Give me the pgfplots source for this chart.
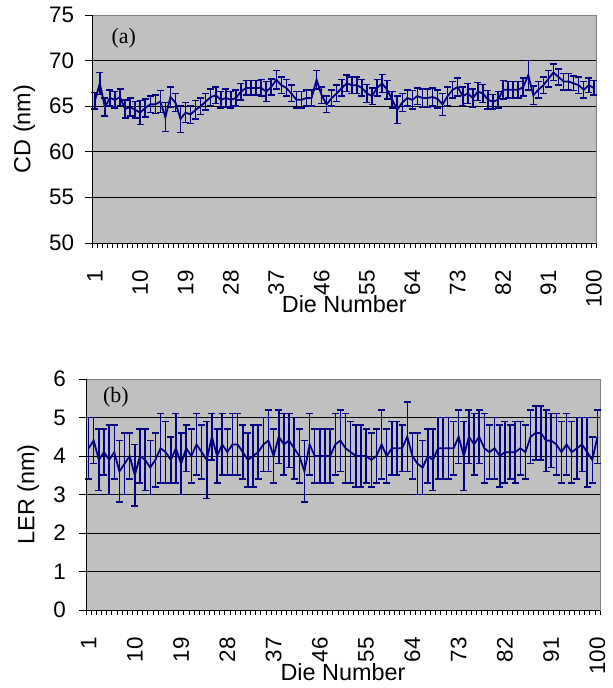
\documentclass[border=0pt]{standalone}
\usepackage{pgfplots}
\pgfplotsset{compat=1.18}
\usepackage{pgfplotstable}
\usepackage{fontspec}
\setmainfont{Liberation Sans}
\newfontfamily\serif{Liberation Serif}
\definecolor{navyline}{RGB}{0,0,128}
\definecolor{plotbg}{RGB}{192,192,192}
\definecolor{frameg}{RGB}{128,128,128}

\pgfplotstableread{
x y e
1 65.6 0.9
2 67.5 1.2
3 64.9 1.0
4 65.9 0.9
5 65.7 0.9
6 66.0 0.9
7 64.7 1.0
8 64.9 1.0
9 64.6 0.9
10 64.3 1.3
11 64.8 1.0
12 65.2 0.9
13 65.2 1.0
14 65.5 1.2
15 63.8 1.6
16 66.0 1.1
17 65.4 1.0
18 63.6 1.5
19 64.3 1.1
20 64.1 1.0
21 64.6 1.0
22 65.0 0.9
23 65.5 0.9
24 66.0 0.9
25 66.2 0.9
26 65.7 0.9
27 65.9 1.0
28 65.7 0.9
29 65.9 0.9
30 66.6 0.9
31 67.0 0.8
32 67.0 0.8
33 67.0 0.8
34 67.0 0.9
35 66.6 1.1
36 67.1 0.9
37 67.9 1.0
38 67.3 0.9
39 67.0 0.9
40 66.4 0.9
41 65.7 0.9
42 65.7 0.9
43 65.9 0.9
44 65.9 0.9
45 67.9 1.0
46 66.2 0.9
47 65.2 0.9
48 65.9 0.9
49 66.4 0.9
50 67.0 0.9
51 67.5 0.9
52 67.3 0.9
53 67.3 0.9
54 67.0 0.9
55 66.4 1.0
56 66.1 0.9
57 67.0 0.9
58 67.5 1.0
59 66.8 1.0
60 65.7 0.9
61 64.6 1.5
62 65.4 1.0
63 65.9 0.9
64 65.7 1.0
65 66.1 0.9
66 65.9 1.0
67 65.9 1.0
68 66.0 1.0
69 65.8 1.0
70 65.2 1.2
71 66.1 1.0
72 66.8 0.9
73 67.1 1.0
74 66.1 1.0
75 66.4 1.1
76 65.9 1.0
77 66.6 1.0
78 66.4 1.0
79 65.7 1.0
80 65.5 0.8
81 65.7 0.9
82 66.8 1.0
83 66.8 0.9
84 66.8 0.9
85 66.8 0.9
86 67.1 1.0
87 68.4 1.6
88 66.2 1.0
89 66.8 0.9
90 67.3 0.9
91 68.0 0.9
92 68.7 0.9
93 68.2 0.9
94 67.7 0.9
95 67.7 0.9
96 67.5 0.8
97 67.3 0.9
98 66.8 0.9
99 67.3 0.8
100 67.0 0.8
}\cdtable

\pgfplotstableread{
x y e
1 4.2 0.8
2 4.4 0.6
3 3.9 0.8
4 4.1 0.6
5 3.9 0.9
6 4.1 0.7
7 3.6 0.8
8 3.8 0.8
9 4.0 0.6
10 3.5 0.8
11 4.0 0.7
12 3.9 0.8
13 3.7 0.7
14 3.9 0.7
15 4.2 0.9
16 4.1 0.8
17 3.9 0.6
18 4.2 0.9
19 3.8 0.8
20 4.2 0.6
21 4.0 0.7
22 4.3 0.8
23 4.1 0.7
24 3.9 1.0
25 4.5 0.6
26 4.0 0.7
27 4.3 0.8
28 4.1 0.6
29 4.3 0.8
30 4.3 0.8
31 4.1 0.7
32 3.9 0.7
33 4.0 0.8
34 4.1 0.7
35 4.3 0.7
36 4.4 0.8
37 4.0 0.7
38 4.5 0.7
39 4.3 0.8
40 4.4 0.7
41 4.2 0.8
42 4.0 0.7
43 3.6 0.8
44 4.3 0.8
45 4.0 0.7
46 4.0 0.7
47 4.0 0.7
48 4.0 0.7
49 4.3 0.8
50 4.4 0.8
51 4.2 0.9
52 4.1 0.8
53 4.0 0.8
54 4.0 0.8
55 4.0 0.7
56 3.9 0.7
57 4.0 0.7
58 4.3 0.9
59 4.0 0.7
60 4.2 0.7
61 4.2 0.7
62 4.2 0.6
63 4.5 0.9
64 4.0 0.6
65 3.8 0.8
66 3.7 0.7
67 4.0 0.7
68 3.9 0.8
69 4.2 0.8
70 4.2 0.8
71 4.2 0.8
72 4.2 0.7
73 4.5 0.7
74 4.0 0.9
75 4.5 0.7
76 4.3 0.8
77 4.5 0.7
78 4.2 0.9
79 4.1 0.7
80 4.2 0.8
81 4.0 0.8
82 4.1 0.8
83 4.1 0.7
84 4.1 0.8
85 4.2 0.7
86 4.1 0.7
87 4.5 0.7
88 4.6 0.7
89 4.6 0.7
90 4.4 0.8
91 4.4 0.7
92 4.3 0.8
93 4.1 0.8
94 4.3 0.8
95 4.1 0.8
96 4.2 0.8
97 4.3 0.7
98 4.1 0.9
99 3.9 0.6
100 4.5 0.7
}\lertable

\pgfplotsset{
  panel/.style={
    scale only axis,
    anchor=south west,
    xmin=0.5, xmax=100.5,
    xtick={1,10,...,100},
    minor xtick={0.5,1.5,...,100.5},
    major x tick style={draw=none},
    minor x tick style={black, line width=0.6bp},
    minor tick length=5bp,
    tick align=outside,
    major tick length=7bp,
    xtick pos=bottom, ytick pos=left,
    major y tick style={black, line width=0.8bp},
    /pgf/number format/assume math mode=true,
    tick label style={font=\fontsize{22.5}{25}\selectfont},
    xticklabel style={rotate=90, anchor=east, inner sep=0pt},
    xticklabel shift=20bp,
    yticklabel style={anchor=east, inner sep=0pt},
    ymajorgrids,
    grid style={black, line width=0.8bp},
    axis line style={frameg, line width=0.8bp},
    axis background/.style={fill=plotbg},
    label style={font=\fontsize{23.5}{26}\selectfont},
    xlabel={Die Number},
    xlabel style={at={(axis description cs:0.5,0)}, anchor=base, yshift=-70bp},
    every axis plot/.append style={navyline, line width=1.8bp},
    clip=false,
  }
}

\begin{document}
\begin{tikzpicture}[x=1bp,y=1bp]
\path[use as bounding box] (0,0) rectangle (613,688);

\begin{axis}[panel,
  at={(92.3bp,445bp)},
  width=504bp, height=228bp,
  ymin=50, ymax=75, ytick={50,55,...,75},
  yticklabel shift=11bp,
  ylabel={CD (nm)},
  ylabel style={at={(axis description cs:-0.135,0.5)}, anchor=center},
]
\addplot[mark=none, error bars/.cd, y dir=both, y explicit,
  error bar style={line width=1.5bp, navyline},
  error mark options={rotate=90, mark size=3.5bp, line width=1.5bp, navyline}]
  table[x=x, y=y, y error=e] {\cdtable};
\draw[black, line width=0.9bp] (rel axis cs:0,0) -- (rel axis cs:0,1);
\draw[black, line width=0.9bp] (rel axis cs:0,0) -- (rel axis cs:1,0);
\node[anchor=west, font=\serif\fontsize{22}{24}\selectfont, inner sep=0pt] at (axis description cs:0.038,0.899) {(a)};
\end{axis}

\begin{axis}[panel,
  at={(86bp,78bp)},
  width=514bp, height=231bp,
  ymin=0, ymax=6, ytick={0,1,...,6},
  yticklabel shift=13bp,
  ylabel={LER (nm)},
  ylabel style={at={(axis description cs:-0.112,0.5)}, anchor=center},
]
\addplot[mark=none, error bars/.cd, y dir=both, y explicit,
  error bar style={line width=1.5bp, navyline},
  error mark options={rotate=90, mark size=3.5bp, line width=1.5bp, navyline}]
  table[x=x, y=y, y error=e] {\lertable};
\draw[black, line width=0.9bp] (rel axis cs:0,0) -- (rel axis cs:0,1);
\draw[black, line width=0.9bp] (rel axis cs:0,0) -- (rel axis cs:1,0);
\node[anchor=west, font=\serif\fontsize{22}{24}\selectfont, inner sep=0pt] at (axis description cs:0.033,0.922) {(b)};
\end{axis}
\end{tikzpicture}
\end{document}
